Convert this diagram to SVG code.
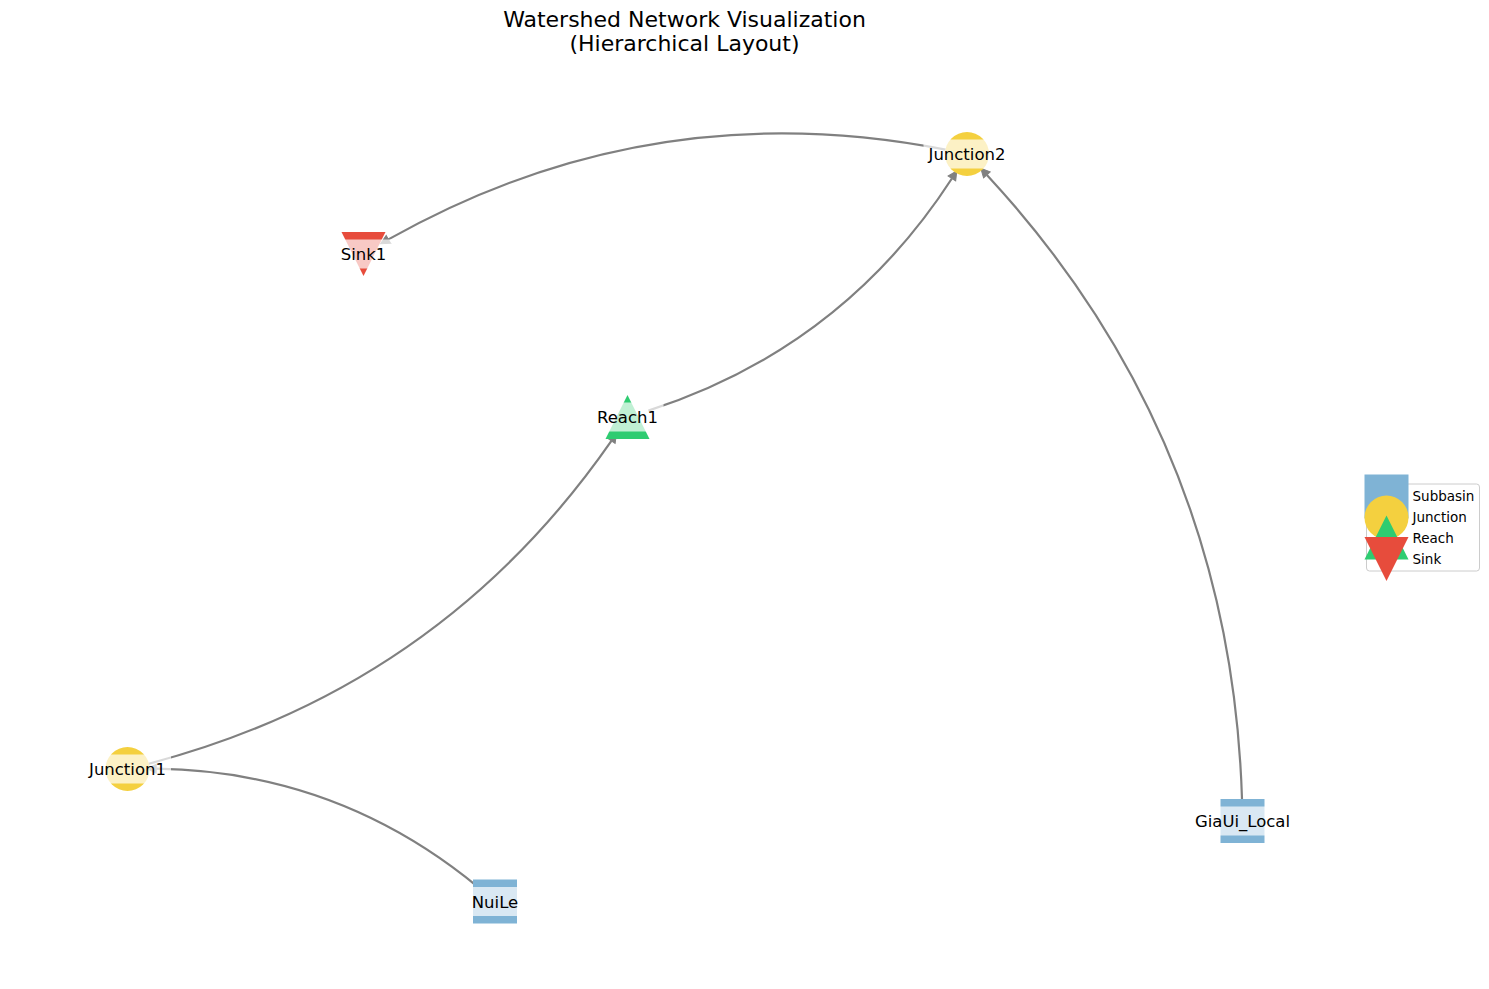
<svg xmlns="http://www.w3.org/2000/svg" width="1489" height="989" viewBox="0 0 1489 989">
<style>
  text { font-family: "DejaVu Sans", "Liberation Sans", sans-serif; fill: #000; }
  .title { font-size: 22px; text-anchor: middle; }
  .lbl { font-size: 16.5px; text-anchor: middle; }
  .lbox { fill: #ffffff; fill-opacity: 0.7; }
  .edge { fill: none; stroke: #808080; stroke-width: 2.2; marker-end: url(#arrow); }
  .sub { fill: #7fb3d5; }
  .jun { fill: #f4d03f; }
  .rea { fill: #2ecc71; }
  .snk { fill: #e74c3c; }
  .leg { font-size: 13.5px; }
</style>
<defs>
  <marker id="arrow" markerUnits="userSpaceOnUse" viewBox="-1 -6 12 12" markerWidth="12" markerHeight="12" refX="0" refY="0" orient="auto">
    <path d="M0,-4.5 L9,0 L0,4.5 Z" fill="#808080" stroke="#808080" stroke-width="1" stroke-linejoin="miter"/>
  </marker>
</defs>
<rect x="0" y="0" width="1489" height="989" fill="#ffffff"/>

<g id="title">
  <text class="title" x="684.5" y="27">Watershed Network Visualization</text>
  <text class="title" x="684.5" y="51">(Hierarchical Layout)</text>
</g>

<g id="connectors">
  <path class="edge" d="M478.4,887.3 Q337.8,771.2 156.2,768.7"/>
  <path class="edge" d="M148.7,763.7 Q440.0,687.4 611.4,440.9"/>
  <path class="edge" d="M648.4,410.6 Q841.8,348.3 951.9,178.5"/>
  <path class="edge" d="M1242.0,799.1 Q1230.9,438.9 986.9,174.9"/>
  <path class="edge" d="M945.6,149.6 Q649.9,91.8 388.4,239.4"/>
</g>

<g id="node-Junction2">
  <circle class="jun" cx="967" cy="154" r="22"/>
</g>
<g id="node-Sink1">
  <polygon class="snk" points="341.5,232 385.5,232 363.5,276"/>
</g>
<g id="node-Reach1">
  <polygon class="rea" points="627.5,395 605.5,439 649.5,439"/>
</g>
<g id="node-Junction1">
  <circle class="jun" cx="127.5" cy="769" r="22"/>
</g>
<g id="node-NuiLe">
  <rect class="sub" x="473" y="879.5" width="44" height="44"/>
</g>
<g id="node-GiaUi_Local">
  <rect class="sub" x="1220.5" y="799" width="44" height="44"/>
</g>

<g id="labels">
  <rect class="lbox" x="923.5" y="139.5" width="87" height="29"/>
  <text class="lbl" x="967" y="160">Junction2</text>
  <rect class="lbox" x="335.5" y="239.5" width="56" height="29"/>
  <text class="lbl" x="363.5" y="260">Sink1</text>
  <rect class="lbox" x="591.5" y="402.5" width="72" height="29"/>
  <text class="lbl" x="627.5" y="423">Reach1</text>
  <rect class="lbox" x="84" y="754.5" width="87" height="29"/>
  <text class="lbl" x="127.5" y="775">Junction1</text>
  <rect class="lbox" x="466.5" y="887" width="57" height="29"/>
  <text class="lbl" x="495" y="907.5">NuiLe</text>
  <rect class="lbox" x="1189.5" y="806.5" width="106" height="29"/>
  <text class="lbl" x="1242.5" y="827">GiaUi_Local</text>
</g>

<g id="legend">
  <rect x="1366.5" y="484" width="113" height="87" rx="3" fill="#ffffff" fill-opacity="0.8" stroke="#cccccc" stroke-width="1"/>
  <rect class="sub" x="1364.5" y="474.5" width="44" height="44"/>
  <text class="leg" x="1412.5" y="500.5">Subbasin</text>
  <circle class="jun" cx="1386.5" cy="517.5" r="22"/>
  <text class="leg" x="1412.5" y="521.5">Junction</text>
  <polygon class="rea" points="1386.5,515.5 1364.5,559.5 1408.5,559.5"/>
  <text class="leg" x="1412.5" y="542.5">Reach</text>
  <polygon class="snk" points="1364.5,537 1408.5,537 1386.5,581"/>
  <text class="leg" x="1412.5" y="563.5">Sink</text>
</g>
</svg>
